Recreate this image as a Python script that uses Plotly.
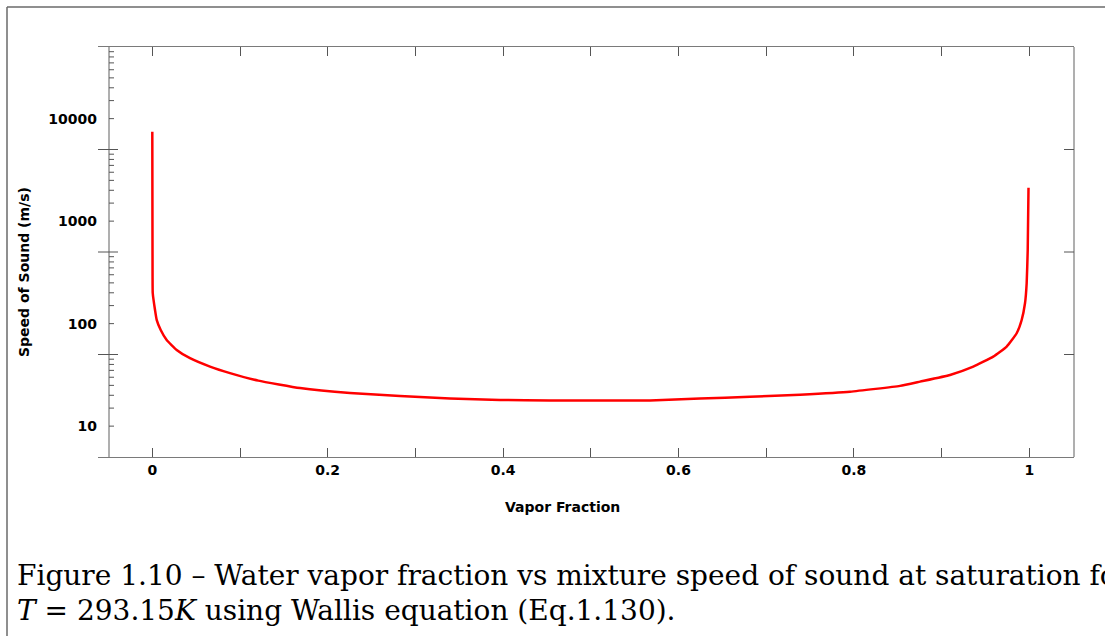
import math
import plotly.graph_objects as go

# ---- data ----
vapor_fraction = [0.0, 0.0003, 0.0005, 0.0031, 0.005, 0.0096, 0.0164, 0.0278, 0.043, 0.0658,
                  0.0886, 0.1209, 0.1684, 0.2254, 0.2824, 0.3395, 0.3965, 0.4535, 0.5105, 0.5675,
                  0.6245, 0.6816, 0.7386, 0.7956, 0.8526, 0.8754, 0.9096, 0.9361, 0.9589, 0.9742,
                  0.9856, 0.9913, 0.9951, 0.9970, 0.9982, 0.9991]
speed_of_sound = [7430, 290, 199, 136, 109, 86.8, 69.3, 55.4, 46.0, 38.1,
                  32.9, 27.8, 23.5, 21.0, 19.7, 18.6, 18.0, 17.8, 17.8, 17.8,
                  18.6, 19.3, 20.3, 21.7, 24.7, 27.2, 31.6, 38.1, 47.7, 59.7,
                  80.6, 108.6, 158, 248, 523, 2117]

x_tick_vals = [0.0, 0.1, 0.2, 0.3, 0.4, 0.5, 0.6, 0.7, 0.8, 0.9, 1.0]
x_tick_text = ["0", "", "0.2", "", "0.4", "", "0.6", "", "0.8", "", "1"]
y_tick_vals = [10, 100, 1000, 10000]
y_tick_text = ["10", "100", "1000", "10000"]
y_major_ticks = [50, 500, 5000]
y_minor_bases = [5, 50, 500, 5000]

x_title = "Vapor Fraction"
y_title = "Speed of Sound (m/s)"
caption_1 = "Figure 1.10 – Water vapor fraction vs mixture speed of sound at saturation for"
caption_2 = "<i>T</i> = 293.15<i>K</i> using Wallis equation (Eq.1.130)."

# ---- layout geometry (pixels) ----
W, H = 1105, 636
L, R, T, B = 98, 1074, 47, 457
PW, PH = R - L, B - T


def pxx(x):
    return (x - L) / PW


def pxy(y):
    return (B - y) / PH


AX = "#7a7a7a"
FONT = "DejaVu Sans"

fig = go.Figure()
fig.add_trace(go.Scatter(x=vapor_fraction, y=speed_of_sound, mode="lines",
                         line=dict(color="#ff0000", width=2.5, shape="spline", smoothing=0.4),
                         showlegend=False, hoverinfo="skip"))

shapes = []
# left / right vertical axis lines
shapes.append(dict(type="line", xref="paper", yref="paper", x0=pxx(109), x1=pxx(109), y0=0, y1=1,
                   line=dict(color=AX, width=1.2)))
shapes.append(dict(type="line", xref="paper", yref="paper", x0=1, x1=1, y0=0, y1=1,
                   line=dict(color=AX, width=1.2)))
# major y ticks (crossing the left axis, inward on the right)
for v in y_major_ticks:
    shapes.append(dict(type="line", xref="paper", yref="y", x0=0, x1=pxx(118),
                       y0=v, y1=v, line=dict(color="#555555", width=1)))
    shapes.append(dict(type="line", xref="paper", yref="y", x0=pxx(1064), x1=1,
                       y0=v, y1=v, line=dict(color="#555555", width=1)))
# minor y ticks
for b in y_minor_bases:
    for j in range(2, 10):
        v = b * j
        shapes.append(dict(type="line", xref="paper", yref="y", x0=pxx(109), x1=pxx(114),
                           y0=v, y1=v, line=dict(color="#555555", width=1)))
# outer page frame
shapes.append(dict(type="line", xref="paper", yref="paper", x0=pxx(7), x1=pxx(1110),
                   y0=pxy(7), y1=pxy(7), line=dict(color="#6a6a6a", width=1.5)))
shapes.append(dict(type="line", xref="paper", yref="paper", x0=pxx(7), x1=pxx(7),
                   y0=pxy(7), y1=pxy(640), line=dict(color="#6a6a6a", width=1.5)))

annotations = [
    dict(text=x_title, xref="paper", yref="paper", x=pxx(562), y=pxy(507),
         xanchor="center", yanchor="middle", showarrow=False,
         font=dict(family=FONT, size=14, color="#000", weight="bold")),
    dict(text=y_title, xref="paper", yref="paper", x=pxx(24), y=pxy(272),
         xanchor="center", yanchor="middle", showarrow=False, textangle=-90,
         font=dict(family=FONT, size=14, color="#000", weight="bold")),
    dict(text=caption_1, xref="paper", yref="paper", x=pxx(15), y=pxy(575),
         xanchor="left", yanchor="middle", showarrow=False,
         font=dict(family="DejaVu Serif", size=28, color="#000")),
    dict(text=caption_2, xref="paper", yref="paper", x=pxx(15), y=pxy(610),
         xanchor="left", yanchor="middle", showarrow=False,
         font=dict(family="DejaVu Serif", size=28, color="#000")),
]

x_left = -54.3 / 877
x_right = x_left + PW / 877

fig.update_layout(
    width=W, height=H,
    margin=dict(l=L, r=W - R, t=T, b=H - B, pad=0),
    paper_bgcolor="white", plot_bgcolor="white",
    shapes=shapes, annotations=annotations,
    xaxis=dict(range=[x_left, x_right], showgrid=False, zeroline=False,
               showline=True, linecolor=AX, linewidth=1.2, mirror="ticks",
               ticks="inside", ticklen=9, tickcolor="#555555", tickwidth=1,
               tickvals=x_tick_vals, ticktext=x_tick_text,
               tickfont=dict(family=FONT, size=14, color="#000", weight="bold")),
    yaxis=dict(type="log", range=[math.log10(5), math.log10(50000)], showgrid=False,
               zeroline=False, showline=False, ticks="",
               tickvals=y_tick_vals, ticktext=y_tick_text,
               tickfont=dict(family=FONT, size=14, color="#000", weight="bold")),
)

fig.write_html("out.html", config={"displayModeBar": False},
               post_script="document.body.style.margin='0px';")
